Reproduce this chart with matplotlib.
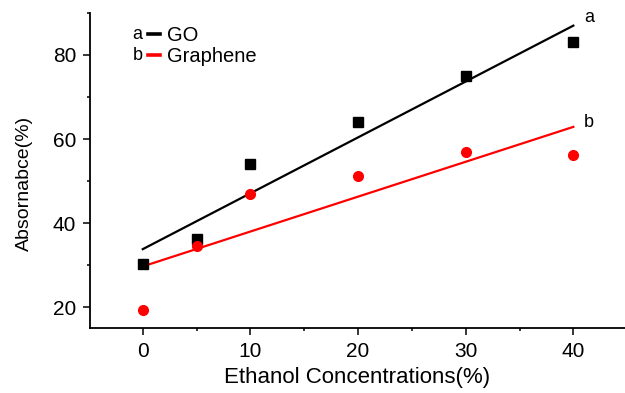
import numpy as np
import matplotlib
matplotlib.use("Agg")
import matplotlib.pyplot as plt
from matplotlib.ticker import MultipleLocator

plt.rcParams['font.family'] = ['Liberation Sans', 'DejaVu Sans']

# Ethanol concentration (%) and measured absorbance (%)
conc = [0, 5, 10, 20, 30, 40]
go_abs = [30.2, 36.2, 54.0, 64.0, 75.0, 83.0]
graphene_abs = [19.3, 34.5, 47.0, 51.2, 57.0, 56.3]

fig = plt.figure(figsize=(6.25, 3.93), dpi=100)
ax = fig.add_axes([0.144, 0.165, 0.856, 0.802])

# linear fits
x = np.array(conc, dtype=float)
xfit = np.array([x.min(), x.max()])
k_go, b_go = np.polyfit(x, go_abs, 1)
k_gr, b_gr = np.polyfit(x, graphene_abs, 1)

ax.plot(conc, go_abs, 's', color='black', ms=6.5, zorder=3)
ax.plot(conc, graphene_abs, 'o', color='#ff0000', ms=7, zorder=3)
ax.plot(xfit, k_go * xfit + b_go, '-', color='black', lw=1.6, label='GO')
ax.plot(xfit, k_gr * xfit + b_gr, '-', color='#ff0000', lw=1.6, label='Graphene')

ax.text(41.0, k_go * 40 + b_go + 2.0, 'a', fontsize=13, ha='left', va='center')
ax.text(41.0, k_gr * 40 + b_gr + 1.0, 'b', fontsize=13, ha='left', va='center')

ax.set_xlim(-4.9, 44.8)
ax.set_ylim(15, 90)
ax.xaxis.set_major_locator(MultipleLocator(10))
ax.xaxis.set_minor_locator(MultipleLocator(5))
ax.yaxis.set_major_locator(MultipleLocator(20))
ax.yaxis.set_minor_locator(MultipleLocator(10))

for s in ['top', 'right']:
    ax.spines[s].set_visible(False)
for s in ['left', 'bottom']:
    ax.spines[s].set_linewidth(1.3)
ax.tick_params(which='major', length=5, width=1.1, labelsize=15, direction='out', pad=5)
ax.tick_params(which='minor', length=2.5, width=1.1, direction='out')

ax.set_xlabel('Ethanol Concentrations(%)', fontsize=16, labelpad=4)
ax.set_ylabel('Absornabce(%)', fontsize=14)
ax.yaxis.set_label_coords(-0.107, 0.46)

leg = ax.legend(loc='upper left', bbox_to_anchor=(0.108, 0.96), frameon=False,
                fontsize=14.5, handlelength=0.6, handletextpad=0.35,
                labelspacing=0.1, borderaxespad=0, borderpad=0)
for line in leg.get_lines():
    line.set_linewidth(2.6)

# "a" / "b" tags in front of the legend handles
fig.canvas.draw()
inv = ax.transAxes.inverted()
for line, tag in zip(leg.get_lines(), ['a', 'b']):
    bb = line.get_window_extent()
    x0, y0 = inv.transform((bb.x0, (bb.y0 + bb.y1) / 2))
    ax.text(x0 - 0.01, y0 - 0.002, tag, fontsize=13, ha='right', va='center',
            transform=ax.transAxes)

fig.savefig('out.png', dpi=100)
